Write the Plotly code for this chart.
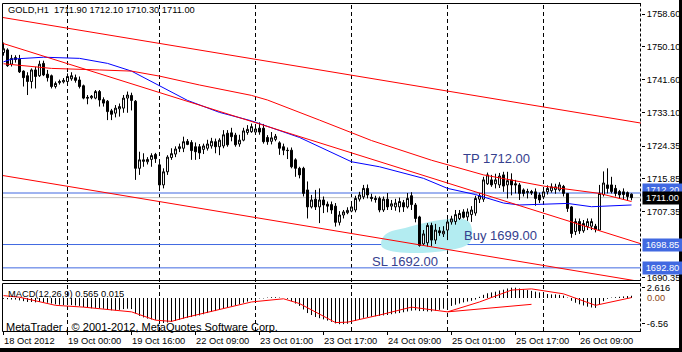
import plotly.graph_objects as go

# ---------------- data ----------------
bars = list(range(158))
opens = [1748.6,1749.3,1745.6,1747.3,1746.9,1743.8,1742.6,1741.1,1744.1,1742.6,
         1745.8,1743.0,1742.6,1739.8,1740.8,1741.0,1741.1,1741.8,1742.1,1741.5,
         1740.0,1737.0,1736.9,1736.8,1738.5,1736.4,1736.0,1733.5,1732.9,1734.0,
         1734.2,1736.8,1737.5,1736.0,1718.6,1720.4,1720.3,1720.9,1722.2,1719.5,
         1714.3,1717.7,1721.4,1722.3,1723.7,1723.8,1725.6,1725.3,1724.2,1724.2,
         1723.5,1723.8,1724.4,1725.5,1724.2,1724.4,1727.7,1727.8,1727.2,1724.9,
         1725.9,1727.9,1728.1,1728.0,1729.0,1729.0,1726.6,1725.6,1726.1,1725.2,
         1724.2,1723.3,1723.3,1720.8,1718.6,1718.6,1713.0,1708.6,1710.6,1708.6,
         1710.4,1709.3,1709.2,1708.8,1704.6,1706.5,1707.1,1707.5,1707.8,1710.6,
         1711.2,1713.4,1711.1,1710.8,1710.8,1707.8,1710.6,1708.8,1708.6,1708.6,
         1709.7,1708.6,1711.5,1709.1,1706.0,1699.0,1699.3,1703.8,1700.0,1702.4,
         1701.6,1702.6,1704.7,1704.8,1705.6,1707.3,1706.0,1706.6,1707.0,1710.6,
         1710.6,1714.6,1715.6,1714.6,1714.3,1716.9,1714.3,1715.6,1714.6,1714.3,
         1713.0,1712.3,1712.6,1712.5,1711.7,1711.2,1712.5,1712.8,1713.1,1713.0,
         1713.9,1712.1,1708.6,1702.2,1704.8,1702.4,1703.5,1703.6,1703.6,1702.6,
         1711.8,1714.3,1714.3,1713.4,1712.6,1712.5,1712.3,1711.9]
highs = [1751.2,1749.7,1748.0,1747.9,1748.0,1744.0,1743.5,1744.5,1744.9,1746.5,
         1746.5,1744.1,1742.9,1741.1,1741.6,1742.0,1743.2,1743.5,1742.9,1742.4,
         1740.3,1737.6,1737.6,1738.9,1738.9,1737.0,1736.3,1734.0,1735.0,1735.4,
         1737.6,1738.5,1738.2,1736.3,1722.9,1722.5,1721.5,1722.5,1722.6,1720.0,
         1718.6,1722.0,1723.8,1724.3,1725.0,1726.8,1726.2,1725.9,1725.3,1724.9,
         1725.0,1726.0,1726.5,1726.3,1726.4,1728.5,1728.5,1729.1,1727.8,1727.3,
         1729.1,1729.8,1730.2,1729.4,1730.5,1730.1,1727.2,1728.0,1727.5,1725.6,
         1725.0,1724.0,1724.0,1721.2,1719.0,1719.0,1715.2,1711.7,1713.0,1713.4,
         1711.3,1710.0,1710.0,1709.6,1707.5,1707.8,1708.5,1709.6,1711.5,1712.5,
         1714.3,1714.4,1712.0,1711.5,1711.3,1711.3,1712.2,1710.4,1710.7,1711.0,
         1710.4,1712.2,1712.4,1709.6,1706.3,1702.6,1704.4,1704.5,1704.2,1703.4,
         1703.6,1705.4,1706.3,1707.8,1707.8,1708.0,1708.2,1708.8,1711.5,1712.2,
         1716.4,1717.5,1716.9,1717.2,1717.4,1717.7,1717.7,1717.3,1715.6,1714.8,
         1713.4,1713.3,1713.0,1713.4,1712.3,1713.4,1714.2,1714.7,1714.6,1715.0,
         1714.3,1712.1,1708.8,1705.6,1705.6,1705.2,1705.6,1705.6,1704.2,1714.3,
         1717.8,1718.6,1716.4,1714.3,1713.0,1713.4,1712.6,1712.1]
lows = [1747.8,1744.9,1745.0,1746.0,1743.3,1739.8,1737.6,1739.3,1739.3,1742.3,
        1742.5,1741.1,1739.3,1739.3,1740.3,1740.6,1740.6,1741.3,1740.8,1739.3,
        1736.5,1735.2,1736.5,1736.5,1734.6,1734.6,1731.1,1731.1,1731.8,1732.0,
        1733.0,1733.0,1733.6,1715.6,1716.9,1719.0,1719.6,1719.0,1720.0,1713.0,
        1713.4,1716.9,1720.8,1721.5,1722.8,1722.8,1724.6,1720.8,1720.8,1721.0,
        1722.3,1723.2,1723.7,1722.5,1722.0,1723.8,1724.2,1725.6,1724.2,1724.2,
        1725.6,1727.3,1727.8,1727.5,1727.3,1725.0,1724.7,1724.8,1725.6,1722.1,
        1722.0,1721.0,1718.6,1716.4,1716.0,1711.3,1705.6,1708.2,1707.8,1704.4,
        1707.0,1707.2,1706.8,1703.5,1703.8,1705.6,1706.7,1707.2,1707.2,1710.0,
        1710.6,1710.8,1710.0,1709.7,1707.2,1707.3,1707.8,1707.8,1707.6,1707.2,
        1707.3,1708.2,1707.8,1704.6,1698.3,1698.7,1698.3,1698.4,1699.0,1701.1,
        1700.8,1700.0,1704.0,1704.0,1705.2,1705.6,1705.0,1704.7,1706.3,1709.6,
        1709.9,1714.3,1713.8,1713.4,1713.5,1712.5,1710.8,1711.6,1712.1,1710.4,
        1711.3,1710.8,1711.7,1708.9,1709.6,1710.6,1711.8,1712.3,1712.0,1712.6,
        1711.3,1707.3,1700.6,1701.3,1701.6,1701.9,1702.6,1702.6,1702.0,1702.5,
        1711.3,1712.1,1712.1,1711.3,1710.8,1710.6,1710.4,1710.3]
closes = [1749.6,1745.2,1747.1,1746.8,1743.6,1742.1,1741.1,1744.1,1742.4,1745.6,
          1742.8,1742.1,1739.8,1740.6,1741.1,1741.4,1742.4,1742.6,1741.4,1739.8,
          1736.8,1736.8,1737.3,1738.5,1736.3,1735.5,1733.3,1732.6,1734.2,1734.6,
          1736.8,1737.6,1736.2,1718.6,1720.8,1720.8,1720.9,1721.9,1721.1,1714.3,
          1717.7,1721.5,1722.4,1723.6,1724.2,1725.5,1724.8,1723.2,1722.9,1722.6,
          1724.4,1724.9,1725.6,1724.2,1725.9,1727.3,1724.7,1726.8,1724.7,1725.9,
          1728.3,1728.7,1729.4,1728.8,1728.0,1725.5,1725.5,1726.5,1726.9,1723.8,
          1723.3,1723.2,1719.0,1718.6,1716.9,1712.1,1708.6,1710.4,1708.6,1710.4,
          1709.1,1708.8,1707.8,1704.6,1706.5,1707.3,1707.7,1708.6,1710.8,1711.7,
          1713.4,1711.7,1710.8,1710.5,1707.8,1710.6,1708.6,1709.4,1709.6,1710.0,
          1708.6,1710.8,1709.2,1705.6,1698.6,1701.6,1703.8,1700.0,1702.6,1701.9,
          1702.3,1704.7,1705.5,1706.6,1706.9,1705.9,1707.3,1707.8,1710.8,1711.5,
          1715.6,1716.9,1714.3,1715.6,1716.6,1714.0,1715.4,1714.3,1714.3,1712.1,
          1712.1,1712.6,1712.2,1710.8,1710.4,1712.5,1713.4,1713.8,1713.8,1714.3,
          1712.1,1708.2,1701.7,1704.8,1702.4,1704.3,1704.8,1704.8,1702.8,1712.1,
          1714.8,1713.4,1712.6,1712.1,1711.7,1711.8,1711.3,1711.0]

macd_hist = [-0.2,-0.3,-0.4,-0.4,-0.6,-0.8,-1.0,-1.0,-1.1,-1.0,
             -1.1,-1.2,-1.4,-1.6,-1.7,-1.8,-1.8,-1.8,-1.9,-2.0,
             -2.3,-2.5,-2.6,-2.5,-2.6,-2.7,-2.9,-3.1,-3.1,-3.0,
             -2.8,-2.7,-2.8,-3.9,-4.5,-4.9,-5.2,-5.4,-5.5,-6.1,
             -6.3,-6.2,-6.0,-5.8,-5.5,-5.2,-5.0,-4.8,-4.6,-4.4,
             -4.1,-3.8,-3.5,-3.3,-3.0,-2.6,-2.4,-2.1,-1.9,-1.6,
             -1.2,-0.9,-0.5,-0.3,-0.1,-0.1,0.1,0.2,0.2,0.1,
             0.0,-0.2,-0.8,-1.4,-2.0,-2.9,-3.8,-4.3,-4.8,-5.1,
             -5.4,-5.7,-6.0,-6.4,-6.6,-6.6,-6.5,-6.4,-5.8,-5.4,
             -5.0,-4.8,-4.7,-4.6,-4.5,-4.4,-4.3,-4.1,-3.9,-3.8,
             -3.6,-3.4,-3.2,-3.1,-3.3,-3.3,-3.4,-3.4,-3.2,-3.0,
             -2.7,-2.4,-2.0,-1.7,-1.4,-1.1,-0.9,-0.7,-0.4,0.3,
             0.8,1.2,1.4,1.6,1.9,2.1,2.4,2.6,2.6,2.4,
             2.2,2.0,1.8,1.6,1.4,1.2,1.0,0.9,0.9,0.8,
             0.6,0.1,-0.7,-1.2,-1.6,-1.9,-2.2,-2.4,-2.5,-1.6,
             -0.8,-0.2,0.1,0.2,0.3,0.4,0.5,0.565]
signal_bars = [0, 4, 13, 20, 32, 38, 42, 46, 62, 70, 74, 83, 86, 94, 102, 111, 119, 127, 132, 140, 148, 157]
signal_vals = [0.6, 0.2, -1.85, -2.3, -3.5, -5.6, -5.9, -4.8, -1.0, -0.2, -1.4, -6.2, -6.1, -4.3, -2.3, -3.5, -1.0, 2.0, 2.3, 1.05, -1.85, 0.1]
macd_line2_bars = [111, 132]
macd_line2_vals = [-3.5, -1.6]

ma_blue_bars = [0, 2, 10, 19, 26, 32, 46, 54, 62, 74, 87, 94, 105, 111, 118, 125, 129, 135, 141, 147, 157]
ma_blue_vals = [1746.2, 1746.9, 1747.4, 1747.1, 1745.8, 1743.8, 1736.2, 1733.1, 1730.9, 1726.6, 1720.3,
                1719.0, 1716.0, 1713.4, 1711.8, 1709.6, 1709.1, 1709.35, 1709.5, 1708.65, 1709.1]
ma_red_bars = [0, 12, 24, 32, 39, 49, 62, 66, 79, 92, 107, 120, 135, 149, 157]
ma_red_vals = [1745.7, 1744.5, 1744.1, 1743.8, 1742.5, 1740.2, 1737.5, 1736.3, 1731.1, 1725.8, 1720.7,
               1716.9, 1714.0, 1712.1, 1710.0]

# trend lines: (bar0, price0, bar1, price1)
trend_top = [-0.2, 1757.7, 159.5, 1730.3]
trend_mid = [-0.2, 1751.0, 159.5, 1699.0]
trend_low = [-0.2, 1716.74, 159.5, 1689.2]

# highlighted zone outline (bar, price)
blob_bars = [94.4, 95.1, 97.1, 100.4, 104.1, 109.1, 113.6, 116.1, 117.1, 116.9, 115.4, 111.6,
             106.6, 101.6, 97.4, 94.9]
blob_prices = [1699.24, 1701.06, 1702.35, 1703.13, 1704.17, 1705.2, 1705.6, 1704.95, 1702.87,
               1700.0, 1698.45, 1697.4, 1696.78, 1696.65, 1697.04, 1697.95]

day_breaks = [16, 39, 63, 87, 111, 135]
tick_bars = [0, 16, 32, 48, 64, 80, 96, 112, 128, 144]
tick_labels = ["18 Oct 2012", "19 Oct 00:00", "19 Oct 16:00", "22 Oct 09:00", "23 Oct 01:00",
               "23 Oct 17:00", "24 Oct 09:00", "25 Oct 01:00", "25 Oct 17:00", "26 Oct 09:00"]
price_ticks = [1758.60, 1750.10, 1741.60, 1733.10, 1724.35, 1715.85, 1707.35, 1690.35]
macd_ticks = [2.616, -6.56]
macd_tick_text = ["2.616", "-6.56"]

levels = [1712.20, 1711.00, 1698.85, 1692.80]
level_colors = ["#4169E1", "#C0C0C0", "#4169E1", "#4169E1"]
level_label_text = ["1712.20", "1711.00", "1698.85", "1692.80"]
level_label_bg = ["#4169E1", "#000000", "#4169E1", "#4169E1"]
level_label_shift = [3, 0, 0, 0]

order_texts = ["TP 1712.00", "Buy 1699.00", "SL 1692.00"]
order_text_bars = [114.6, 114.85, 91.85]
order_text_prices = [1721.2, 1701.3, 1694.4]

header = "GOLD,H1  1711.90 1712.10 1710.30 1711.00"
macd_title = "MACD(12,26,9) 0.565 0.015"
copyright_text = "MetaTrader , © 2001-2012, MetaQuotes Software Corp."

# ---------------- layout geometry ----------------
W, H = 682, 352
ML, MR, MT, MB = 3, 41, 3, 21
PW, PH = W - ML - MR, H - MT - MB


def ppx(x):
    return (x - ML) / PW


def ppy(y):
    return (H - MB - y) / PH


def smooth_closed_path(xs, ys):
    n = len(xs)
    d = "M %.3f,%.3f " % (xs[0], ys[0])
    for i in range(n):
        p0 = (xs[(i - 1) % n], ys[(i - 1) % n])
        p1 = (xs[i], ys[i])
        p2 = (xs[(i + 1) % n], ys[(i + 1) % n])
        p3 = (xs[(i + 2) % n], ys[(i + 2) % n])
        c1 = (p1[0] + (p2[0] - p0[0]) / 6, p1[1] + (p2[1] - p0[1]) / 6)
        c2 = (p2[0] - (p3[0] - p1[0]) / 6, p2[1] - (p3[1] - p1[1]) / 6)
        d += "C %.3f,%.3f %.3f,%.3f %.3f,%.3f " % (c1[0], c1[1], c2[0], c2[1], p2[0], p2[1])
    return d + "Z"


FONT = "Liberation Sans"
XR = [-0.125, -0.125 + PW / 4.0]

fig = go.Figure()

fig.add_trace(go.Candlestick(x=bars, open=opens, high=highs, low=lows, close=closes,
                             increasing=dict(line=dict(color="black", width=1), fillcolor="white"),
                             decreasing=dict(line=dict(color="black", width=1), fillcolor="black"),
                             whiskerwidth=0, xaxis="x", yaxis="y", hoverinfo="skip"))

fig.add_trace(go.Scatter(x=ma_blue_bars, y=ma_blue_vals, mode="lines",
                         line=dict(color="#0000ff", width=1), xaxis="x", yaxis="y", hoverinfo="skip"))
fig.add_trace(go.Scatter(x=ma_red_bars, y=ma_red_vals, mode="lines",
                         line=dict(color="#ff0000", width=1), xaxis="x", yaxis="y", hoverinfo="skip"))
for tl in (trend_top, trend_mid, trend_low):
    fig.add_trace(go.Scatter(x=[tl[0], tl[2]], y=[tl[1], tl[3]], mode="lines",
                             line=dict(color="#ff0000", width=1), xaxis="x", yaxis="y",
                             hoverinfo="skip"))

hx, hy = [], []
for b, v in zip(bars, macd_hist):
    hx += [b, b, None]
    hy += [0, v, None]
fig.add_trace(go.Scatter(x=hx, y=hy, mode="lines", line=dict(color="black", width=1),
                         xaxis="x2", yaxis="y2", hoverinfo="skip"))
fig.add_trace(go.Scatter(x=signal_bars, y=signal_vals, mode="lines",
                         line=dict(color="#ff0000", width=1), xaxis="x2", yaxis="y2", hoverinfo="skip"))
fig.add_trace(go.Scatter(x=macd_line2_bars, y=macd_line2_vals, mode="lines",
                         line=dict(color="#ff0000", width=1), xaxis="x2", yaxis="y2", hoverinfo="skip"))

shapes = []
shapes.append(dict(type="path", xref="x", yref="y", path=smooth_closed_path(blob_bars, blob_prices),
                   fillcolor="#b3ecf1", line=dict(width=0), layer="below"))
for d in day_breaks:
    shapes.append(dict(type="line", xref="x", yref="paper", x0=d, x1=d, y0=ppy(331), y1=ppy(3),
                       line=dict(color="black", width=1, dash="4px,3px"), layer="below"))
for lv, c in zip(levels, level_colors):
    shapes.append(dict(type="line", xref="paper", yref="y", x0=0, x1=1, y0=lv, y1=lv,
                       line=dict(color=c, width=1), layer="below"))
blk = dict(color="black", width=1)
main_bot, macd_top, bot = 280.5, 283.5, 331.5
shapes += [
    dict(type="line", xref="paper", yref="paper", x0=ppx(2.5), x1=1, y0=ppy(3.5), y1=ppy(3.5), line=blk),
    dict(type="line", xref="paper", yref="paper", x0=ppx(2.5), x1=1, y0=ppy(main_bot), y1=ppy(main_bot), line=blk),
    dict(type="line", xref="paper", yref="paper", x0=ppx(2.5), x1=1, y0=ppy(macd_top), y1=ppy(macd_top), line=blk),
    dict(type="line", xref="paper", yref="paper", x0=ppx(2.5), x1=1, y0=ppy(bot), y1=ppy(bot), line=blk),
    dict(type="line", xref="paper", yref="paper", x0=ppx(2.5), x1=ppx(2.5), y0=ppy(3.5), y1=ppy(main_bot), line=blk),
    dict(type="line", xref="paper", yref="paper", x0=ppx(2.5), x1=ppx(2.5), y0=ppy(macd_top), y1=ppy(bot), line=blk),
    dict(type="line", xref="paper", yref="paper", x0=ppx(640.5), x1=ppx(640.5), y0=ppy(3.5), y1=ppy(main_bot),
         line=dict(color="black", width=1, dash="3px,2px")),
    dict(type="line", xref="paper", yref="paper", x0=ppx(640.5), x1=ppx(640.5), y0=ppy(macd_top), y1=ppy(bot),
         line=dict(color="black", width=1, dash="3px,2px")),
    dict(type="rect", xref="paper", yref="paper", x0=ppx(679), x1=ppx(684), y0=ppy(354), y1=ppy(-2),
         fillcolor="black", line=dict(width=0)),
    dict(type="rect", xref="paper", yref="paper", x0=ppx(-2), x1=ppx(684), y0=ppy(354), y1=ppy(348),
         fillcolor="black", line=dict(width=0)),
]

small = dict(family=FONT, size=9.3, color="black")
ann = []
for b, t in zip(tick_bars, tick_labels):
    ann.append(dict(x=b, xref="x2", y=ppy(341), yref="paper", text=t, showarrow=False,
                    xanchor="left", yanchor="middle", xshift=-1, borderpad=0, font=small))
for t, lv, bg, sh in zip(level_label_text, levels, level_label_bg, level_label_shift):
    ann.append(dict(x=1, xref="paper", y=lv, yref="y", text=t, showarrow=False, xanchor="left",
                    yanchor="middle", xshift=1, yshift=sh, bgcolor=bg, borderpad=1, width=37,
                    align="center", font=dict(family=FONT, size=9.3, color="white")))
ann.append(dict(x=1, xref="paper", y=0, yref="y2", text="0.00", showarrow=False, xanchor="left",
                yanchor="middle", xshift=5, borderpad=0, font=dict(family=FONT, size=9.3, color="#8b4513")))
for t, b, p in zip(order_texts, order_text_bars, order_text_prices):
    ann.append(dict(x=b, xref="x", y=p, yref="y", text=t, showarrow=False, xanchor="left",
                    yanchor="middle", borderpad=0, font=dict(family=FONT, size=13, color="#35408e")))
ann.append(dict(x=ppx(7), xref="paper", y=ppy(10), yref="paper", text=header, showarrow=False,
                xanchor="left", yanchor="middle", borderpad=0, font=small))
ann.append(dict(x=ppx(7), xref="paper", y=ppy(294), yref="paper", text=macd_title, showarrow=False,
                xanchor="left", yanchor="middle", borderpad=0, font=small))
ann.append(dict(x=ppx(5), xref="paper", y=ppy(326.5), yref="paper", text=copyright_text, showarrow=False,
                xanchor="left", yanchor="middle", borderpad=0, font=dict(family=FONT, size=11, color="black")))

fig.update_layout(
    width=W, height=H, margin=dict(l=ML, r=MR, t=MT, b=MB, pad=0),
    paper_bgcolor="white", plot_bgcolor="white", showlegend=False,
    font=dict(family=FONT, size=9.3, color="black"),
    xaxis=dict(domain=[0, 1], range=XR, anchor="y", showgrid=False, zeroline=False,
               showticklabels=False, ticks="", rangeslider=dict(visible=False), showline=False,
               fixedrange=True),
    xaxis2=dict(domain=[0, 1], range=XR, anchor="y2", showgrid=False, zeroline=False,
                showticklabels=False, tickmode="array", tickvals=tick_bars, ticks="outside",
                ticklen=3, tickcolor="black", tickwidth=1, showline=False, fixedrange=True),
    yaxis=dict(domain=[ppy(main_bot), ppy(3)], range=[1758.6 - (280.5 - 14) / 3.858, 1758.6 + 11 / 3.858],
               anchor="x", side="right", showgrid=False, zeroline=False, tickmode="array",
               tickvals=price_ticks, ticktext=["%.2f" % v for v in price_ticks], ticks="outside",
               ticklen=3, tickcolor="black", tickfont=small, showline=False, fixedrange=True),
    yaxis2=dict(domain=[0, ppy(macd_top)], range=[-8.33, 3.66], anchor="x2", side="right",
                showgrid=False, zeroline=False, tickmode="array", tickvals=macd_ticks,
                ticktext=macd_tick_text, ticks="outside", ticklen=3, tickcolor="black",
                tickfont=small, showline=False, fixedrange=True),
    shapes=shapes, annotations=ann,
)

fig.write_html("out.html")
